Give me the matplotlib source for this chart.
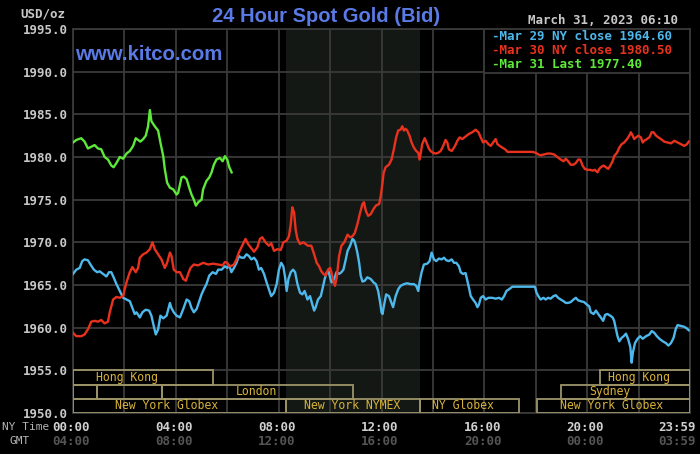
import matplotlib
matplotlib.use("Agg")
import matplotlib.pyplot as plt
from matplotlib.patches import Rectangle
import numpy as np

# Kitco 24 hour spot gold chart, NY time in hours (0 = 00:00)
mar29_close: str = "1964.60"
mar30_close: str = "1980.50"
mar31_last: str = "1977.40"
chart_stamp: str = "March 31, 2023 06:10"

# Mar 29 (blue)
mar29 = [
    (0.00, 1966.3), (0.13, 1966.8), (0.26, 1967.0), (0.36, 1967.8), (0.45, 1968.0), (0.58, 1967.9),
    (0.68, 1967.4), (0.81, 1966.8), (0.94, 1966.5), (1.04, 1966.6), (1.17, 1966.3), (1.30, 1966.0),
    (1.40, 1966.5), (1.49, 1966.5), (1.58, 1965.9), (1.69, 1965.1), (1.82, 1964.3), (1.95, 1963.5),
    (2.08, 1963.3), (2.21, 1963.1), (2.31, 1962.3), (2.40, 1961.6), (2.47, 1961.8), (2.60, 1961.2),
    (2.70, 1961.8), (2.83, 1962.1), (2.96, 1962.0), (3.05, 1961.4), (3.14, 1960.2), (3.22, 1959.2),
    (3.31, 1959.8), (3.40, 1961.4), (3.51, 1961.1), (3.64, 1961.4), (3.77, 1962.9), (3.83, 1962.3),
    (3.92, 1961.8), (4.03, 1961.4), (4.16, 1961.2), (4.29, 1962.2), (4.42, 1963.3), (4.52, 1963.1),
    (4.61, 1962.3), (4.70, 1961.8), (4.81, 1962.2), (4.91, 1963.1), (5.00, 1963.9), (5.09, 1964.5),
    (5.19, 1965.1), (5.30, 1966.1), (5.43, 1966.5), (5.56, 1966.3), (5.65, 1966.8), (5.78, 1966.8),
    (5.91, 1967.2), (6.00, 1967.0), (6.08, 1967.3), (6.16, 1966.5), (6.26, 1967.0), (6.36, 1967.6),
    (6.45, 1968.4), (6.55, 1968.2), (6.65, 1968.2), (6.75, 1968.6), (6.84, 1968.4), (6.94, 1968.0),
    (7.04, 1968.2), (7.14, 1967.8), (7.23, 1966.8), (7.32, 1967.0), (7.43, 1966.3), (7.53, 1965.3),
    (7.62, 1964.5), (7.71, 1963.7), (7.82, 1964.1), (7.92, 1965.1), (8.01, 1966.8), (8.10, 1967.6),
    (8.18, 1967.2), (8.25, 1965.9), (8.31, 1964.3), (8.38, 1965.7), (8.47, 1966.5), (8.56, 1966.8),
    (8.64, 1966.5), (8.73, 1965.1), (8.83, 1964.1), (8.92, 1963.9), (9.01, 1964.3), (9.12, 1963.3),
    (9.22, 1963.7), (9.31, 1962.7), (9.38, 1962.0), (9.44, 1962.4), (9.53, 1963.3), (9.64, 1963.7),
    (9.73, 1964.9), (9.79, 1965.7), (9.87, 1966.5), (9.94, 1966.6), (10.00, 1965.9), (10.06, 1965.3),
    (10.16, 1965.7), (10.25, 1966.5), (10.35, 1966.3), (10.44, 1966.5), (10.52, 1966.8), (10.61, 1968.0),
    (10.68, 1969.0), (10.78, 1969.6), (10.87, 1970.4), (10.94, 1970.2), (11.00, 1969.6), (11.06, 1968.8),
    (11.13, 1967.6), (11.19, 1966.1), (11.26, 1965.4), (11.35, 1965.5), (11.45, 1965.9), (11.58, 1965.7),
    (11.69, 1965.3), (11.78, 1965.1), (11.87, 1964.3), (11.95, 1962.9), (12.00, 1961.8), (12.04, 1961.6),
    (12.09, 1962.5), (12.18, 1963.9), (12.29, 1963.7), (12.39, 1962.9), (12.45, 1962.4), (12.55, 1963.7),
    (12.65, 1964.5), (12.74, 1964.9), (12.87, 1965.1), (13.00, 1965.2), (13.13, 1965.1), (13.26, 1965.1),
    (13.35, 1964.9), (13.43, 1964.3), (13.48, 1965.3), (13.56, 1966.5), (13.65, 1967.4), (13.78, 1967.5),
    (13.87, 1967.8), (13.95, 1968.8), (14.04, 1968.0), (14.13, 1967.8), (14.23, 1968.1), (14.34, 1968.0),
    (14.43, 1968.2), (14.52, 1967.9), (14.62, 1967.8), (14.73, 1968.0), (14.82, 1967.6), (14.91, 1967.6),
    (15.01, 1967.2), (15.08, 1966.5), (15.17, 1966.3), (15.27, 1966.4), (15.34, 1965.5), (15.40, 1964.7),
    (15.47, 1963.7), (15.56, 1963.3), (15.66, 1962.9), (15.73, 1962.4), (15.79, 1962.7), (15.86, 1963.5),
    (15.95, 1963.7), (16.05, 1963.3), (16.16, 1963.5), (16.31, 1963.5), (16.44, 1963.4), (16.57, 1963.5),
    (16.68, 1963.3), (16.77, 1963.7), (16.86, 1964.3), (16.96, 1964.5), (17.09, 1964.8), (17.35, 1964.8),
    (17.61, 1964.8), (17.87, 1964.8), (17.97, 1964.8), (18.03, 1964.1), (18.10, 1963.7), (18.19, 1963.3),
    (18.30, 1963.5), (18.39, 1963.3), (18.48, 1963.5), (18.58, 1963.4), (18.69, 1963.7), (18.78, 1963.8),
    (18.87, 1963.5), (18.97, 1963.3), (19.08, 1963.1), (19.17, 1962.9), (19.26, 1962.9), (19.36, 1963.0),
    (19.47, 1963.3), (19.56, 1963.5), (19.65, 1963.2), (19.75, 1963.1), (19.88, 1963.0), (19.99, 1962.7),
    (20.08, 1962.5), (20.14, 1961.8), (20.25, 1961.6), (20.34, 1962.0), (20.43, 1961.6), (20.53, 1961.2),
    (20.62, 1960.8), (20.70, 1961.5), (20.79, 1961.6), (20.90, 1961.4), (20.99, 1961.2), (21.05, 1960.8),
    (21.12, 1959.8), (21.18, 1959.0), (21.25, 1958.4), (21.34, 1958.8), (21.42, 1959.0), (21.51, 1959.3),
    (21.60, 1958.6), (21.68, 1957.7), (21.73, 1955.9), (21.78, 1957.1), (21.86, 1958.2), (21.96, 1958.7),
    (22.06, 1959.0), (22.16, 1958.7), (22.29, 1959.0), (22.42, 1959.2), (22.51, 1959.6), (22.61, 1959.4),
    (22.71, 1959.0), (22.81, 1958.7), (22.94, 1958.4), (23.06, 1958.2), (23.16, 1957.9), (23.26, 1958.2),
    (23.36, 1958.8), (23.45, 1959.9), (23.52, 1960.3), (23.65, 1960.2), (23.78, 1960.1), (23.88, 1959.9),
    (23.95, 1959.7),
]

# Mar 30 (red)
mar30 = [
    (0.00, 1959.4), (0.13, 1959.0), (0.32, 1959.0), (0.45, 1959.2), (0.58, 1959.8), (0.71, 1960.7),
    (0.84, 1960.8), (0.97, 1960.7), (1.10, 1960.9), (1.23, 1960.5), (1.36, 1960.7), (1.43, 1961.8),
    (1.49, 1962.5), (1.56, 1963.3), (1.69, 1963.6), (1.82, 1963.5), (1.95, 1963.7), (2.01, 1964.5),
    (2.10, 1965.5), (2.21, 1966.5), (2.31, 1967.1), (2.44, 1966.5), (2.53, 1967.0), (2.60, 1968.2),
    (2.73, 1968.6), (2.86, 1968.8), (2.99, 1969.2), (3.09, 1970.0), (3.18, 1969.2), (3.31, 1968.6),
    (3.44, 1968.0), (3.57, 1967.0), (3.66, 1967.6), (3.77, 1968.8), (3.83, 1968.4), (3.92, 1966.8),
    (4.03, 1966.5), (4.16, 1966.5), (4.29, 1965.7), (4.39, 1965.5), (4.48, 1966.3), (4.57, 1967.0),
    (4.70, 1967.4), (4.87, 1967.3), (5.06, 1967.6), (5.26, 1967.4), (5.45, 1967.5), (5.65, 1967.4),
    (5.82, 1967.3), (5.91, 1967.7), (6.00, 1967.6), (6.08, 1967.2), (6.13, 1967.2), (6.26, 1967.4),
    (6.36, 1968.0), (6.45, 1968.8), (6.58, 1969.6), (6.71, 1970.4), (6.81, 1969.8), (6.91, 1969.4),
    (7.04, 1968.9), (7.17, 1969.4), (7.27, 1970.4), (7.36, 1970.6), (7.49, 1970.0), (7.62, 1969.6),
    (7.71, 1969.9), (7.82, 1969.0), (7.95, 1969.2), (8.08, 1969.1), (8.18, 1970.0), (8.31, 1970.2),
    (8.40, 1970.7), (8.47, 1972.1), (8.53, 1974.1), (8.60, 1973.5), (8.66, 1971.5), (8.73, 1970.4),
    (8.83, 1969.8), (8.96, 1970.0), (9.05, 1969.8), (9.14, 1969.6), (9.27, 1969.6), (9.38, 1968.6),
    (9.48, 1967.6), (9.57, 1967.2), (9.66, 1966.6), (9.74, 1966.3), (9.83, 1966.1), (9.92, 1966.8),
    (10.00, 1967.0), (10.05, 1966.5), (10.13, 1965.4), (10.19, 1964.9), (10.26, 1965.9), (10.35, 1968.4),
    (10.44, 1969.6), (10.55, 1970.0), (10.61, 1970.4), (10.68, 1970.9), (10.78, 1970.6), (10.87, 1970.7),
    (10.96, 1971.1), (11.06, 1972.1), (11.17, 1973.5), (11.26, 1974.5), (11.32, 1974.7), (11.39, 1973.7),
    (11.48, 1973.1), (11.58, 1973.3), (11.69, 1973.9), (11.78, 1974.3), (11.91, 1974.5), (11.97, 1975.4),
    (12.04, 1977.0), (12.08, 1978.1), (12.16, 1978.8), (12.29, 1979.1), (12.39, 1979.7), (12.48, 1980.9),
    (12.57, 1982.3), (12.65, 1983.1), (12.74, 1983.2), (12.81, 1983.6), (12.87, 1983.1), (12.94, 1983.3),
    (13.00, 1983.1), (13.09, 1982.5), (13.17, 1981.7), (13.26, 1981.1), (13.35, 1980.7), (13.43, 1980.5),
    (13.48, 1979.7), (13.53, 1980.5), (13.58, 1981.5), (13.68, 1982.2), (13.75, 1981.7), (13.84, 1981.0),
    (13.91, 1980.7), (14.00, 1980.5), (14.10, 1980.4), (14.21, 1980.5), (14.30, 1980.7), (14.40, 1981.3),
    (14.49, 1982.0), (14.56, 1981.7), (14.62, 1980.9), (14.73, 1980.7), (14.86, 1981.3), (14.95, 1981.9),
    (15.04, 1982.3), (15.14, 1982.1), (15.27, 1982.4), (15.40, 1982.7), (15.53, 1982.9), (15.66, 1983.2),
    (15.77, 1982.9), (15.86, 1982.3), (15.95, 1981.7), (16.05, 1981.9), (16.16, 1981.5), (16.25, 1981.3),
    (16.34, 1981.7), (16.44, 1982.1), (16.51, 1981.5), (16.60, 1981.3), (16.70, 1981.1), (16.81, 1980.9),
    (16.90, 1980.6), (17.09, 1980.6), (17.35, 1980.6), (17.61, 1980.6), (17.87, 1980.6), (18.00, 1980.5),
    (18.10, 1980.3), (18.19, 1980.2), (18.32, 1980.3), (18.45, 1980.4), (18.58, 1980.4), (18.71, 1980.3),
    (18.84, 1980.0), (18.97, 1979.7), (19.08, 1979.5), (19.17, 1979.8), (19.26, 1979.5), (19.36, 1979.1),
    (19.47, 1979.1), (19.56, 1979.3), (19.65, 1979.7), (19.73, 1979.7), (19.82, 1979.0), (19.91, 1978.6),
    (20.01, 1978.5), (20.12, 1978.5), (20.21, 1978.4), (20.30, 1978.5), (20.40, 1978.2), (20.47, 1978.6),
    (20.53, 1978.8), (20.64, 1979.0), (20.73, 1978.8), (20.82, 1978.6), (20.90, 1979.0), (20.99, 1979.5),
    (21.05, 1980.1), (21.16, 1980.5), (21.25, 1981.1), (21.34, 1981.5), (21.44, 1981.7), (21.55, 1982.1),
    (21.64, 1982.5), (21.70, 1982.9), (21.77, 1982.5), (21.83, 1982.1), (21.90, 1982.3), (21.99, 1982.5),
    (22.09, 1982.3), (22.16, 1981.7), (22.22, 1981.9), (22.32, 1982.1), (22.42, 1982.3), (22.51, 1982.9),
    (22.58, 1982.9), (22.68, 1982.5), (22.77, 1982.3), (22.87, 1982.1), (23.00, 1981.8), (23.13, 1981.7),
    (23.26, 1981.6), (23.39, 1981.9), (23.52, 1981.7), (23.65, 1981.5), (23.78, 1981.3), (23.88, 1981.5),
    (23.95, 1981.8),
]

# Mar 31 (green), up to 06:10
mar31 = [
    (0.00, 1981.7), (0.13, 1982.0), (0.32, 1982.2), (0.45, 1981.8), (0.58, 1981.0), (0.71, 1981.2),
    (0.84, 1981.4), (0.97, 1981.0), (1.10, 1980.9), (1.23, 1980.0), (1.36, 1979.7), (1.49, 1979.0),
    (1.58, 1978.8), (1.69, 1979.3), (1.82, 1980.0), (1.95, 1979.8), (2.08, 1980.4), (2.21, 1980.7),
    (2.34, 1981.3), (2.44, 1982.2), (2.53, 1982.0), (2.62, 1981.8), (2.73, 1982.1), (2.83, 1982.5),
    (2.92, 1983.6), (2.99, 1985.5), (3.05, 1984.2), (3.18, 1983.6), (3.31, 1983.1), (3.40, 1981.7),
    (3.51, 1980.1), (3.57, 1978.6), (3.66, 1977.0), (3.77, 1976.4), (3.90, 1976.2), (4.03, 1975.6),
    (4.09, 1975.8), (4.22, 1977.6), (4.31, 1977.7), (4.42, 1977.4), (4.52, 1976.4), (4.61, 1975.6),
    (4.70, 1975.0), (4.78, 1974.3), (4.87, 1974.7), (5.00, 1975.0), (5.06, 1976.2), (5.19, 1977.2),
    (5.30, 1977.6), (5.39, 1978.2), (5.48, 1979.1), (5.58, 1979.7), (5.71, 1979.9), (5.82, 1979.5),
    (5.91, 1980.1), (6.00, 1979.7), (6.08, 1978.8), (6.17, 1978.2),
]

# trading sessions: name, start hour, end hour, row (0 = top)
sessions = [
    ("Hong Kong", 0.0, 5.45, 0),
    ("Hong Kong", 20.5, 24.0, 0),
    ("", 0.0, 0.93, 1),
    ("", 0.93, 3.46, 1),
    ("London", 3.46, 10.9, 1),
    ("Sydney", 19.0, 24.0, 1),
    ("New York Globex", 0.0, 8.3, 2),
    ("New York NYMEX", 8.3, 13.5, 2),
    ("NY Globex", 13.5, 17.35, 2),
    ("New York Globex", 18.05, 24.0, 2),
]
session_label_x = [2.1, 22.0, None, None, 7.15, 20.9, 3.65, 10.87, 15.15, 20.93]
nymex_open: float = 8.3
nymex_close: float = 13.5

ny_time_labels = ["00:00", "04:00", "08:00", "12:00", "16:00", "20:00", "23:59"]
gmt_time_labels = ["04:00", "08:00", "12:00", "16:00", "20:00", "00:00", "03:59"]
time_label_hours = [0, 4, 8, 12, 16, 20, 23.98]

BLUE = "#4db8ec"
RED = "#e8321e"
GREEN = "#5de83a"
GRID = "#3a3a3a"
TXT = "#c8c8c8"
GOLD = "#d9b43a"
BOX = "#9c9468"
KITCO = "#5a7ae6"
MONO = "DejaVu Sans Mono"

fig = plt.figure(figsize=(7, 4.54), dpi=100, facecolor="black")
ax = fig.add_axes([73 / 700, 41 / 454, 617 / 700, 384 / 454])
ax.set_facecolor("black")
ax.set_xlim(0, 24)
ax.set_ylim(1950, 1995)

ax.set_xticks(np.arange(0, 25, 2))
ax.set_xticklabels([])
ax.set_yticks(np.arange(1950, 1996, 5))
ax.set_yticklabels([f"{v:.1f}" for v in np.arange(1950, 1996, 5)],
                   family=MONO, fontweight="bold", fontsize=9, color=TXT)
ax.tick_params(length=0, pad=4)
ax.set_axisbelow(True)
ax.grid(color=GRID, lw=1.3)
for s in ax.spines.values():
    s.set_color(GRID)
    s.set_linewidth(1.3)

ax.axvspan(nymex_open, nymex_close, color="#141814", zorder=0.2, lw=0)

for data, col in [(mar29, BLUE), (mar30, RED), (mar31, GREEN)]:
    h, p = zip(*data)
    ax.plot(h, p, color=col, lw=1.7, zorder=3)

# session bars at the bottom
row_edges = [1955.0, 1953.33, 1951.67, 1950.0]
for (name, start, end, row), lx in zip(sessions, session_label_x):
    top, bot = row_edges[row], row_edges[row + 1]
    ax.add_patch(Rectangle((start, bot), end - start, top - bot, fill=False,
                           edgecolor=BOX, lw=1.3, zorder=4))
    if name:
        ax.text(lx, (top + bot) / 2, name, ha="center", va="center", family=MONO,
                fontsize=8.3, color=GOLD, zorder=5)

# legend box in the top right
ax.add_patch(Rectangle((16.0, 1989.85), 8.0, 5.15, facecolor="black", edgecolor=GRID,
                       lw=1.3, zorder=6))
legend_rows = [
    (f"-Mar 29 NY close {mar29_close}", BLUE),
    (f"-Mar 30 NY close {mar30_close}", RED),
    (f"-Mar 31 Last {mar31_last}", GREEN),
]
for i, (txt, col) in enumerate(legend_rows):
    fig.text(492 / 700, 1 - (37 + 13.5 * i) / 454, txt, ha="left", va="center",
             family=MONO, fontweight="bold", fontsize=9, color=col)

# texts round the chart
fig.text(326 / 700, 1 - 16 / 454, "24 Hour Spot Gold (Bid)", ha="center", va="center",
         family="Liberation Sans", fontweight="bold", fontsize=14.5, color=KITCO)
fig.text(75 / 700, 1 - 54 / 454, "www.kitco.com", ha="left", va="center",
         family="Liberation Sans", fontweight="bold", fontsize=14.7, color=KITCO)
fig.text(20 / 700, 1 - 14 / 454, "USD/oz", ha="left", va="center",
         family=MONO, fontweight="bold", fontsize=9, color=TXT)
fig.text(678 / 700, 1 - 21 / 454, chart_stamp, ha="right", va="center",
         family=MONO, fontweight="bold", fontsize=9, color=TXT)

for h, ny, gmt in zip(time_label_hours, ny_time_labels, gmt_time_labels):
    xx = h - 0.07 if h < 23 else 23.5
    ax.text(xx, -0.037, ny, transform=ax.get_xaxis_transform(), ha="center", va="center",
            family=MONO, fontweight="bold", fontsize=9, color="#d0d0d0")
    ax.text(xx, -0.073, gmt, transform=ax.get_xaxis_transform(), ha="center", va="center",
            family=MONO, fontweight="bold", fontsize=9, color="#555555")
fig.text(2 / 700, 1 - 427 / 454, "NY Time", ha="left", va="center",
         family=MONO, fontsize=8, color="#b4b4b4")
fig.text(20 / 700, 1 - 441 / 454, "GMT", ha="center", va="center",
         family=MONO, fontsize=8, color="#b4b4b4")

fig.savefig("out.png", dpi=100, facecolor="black")
